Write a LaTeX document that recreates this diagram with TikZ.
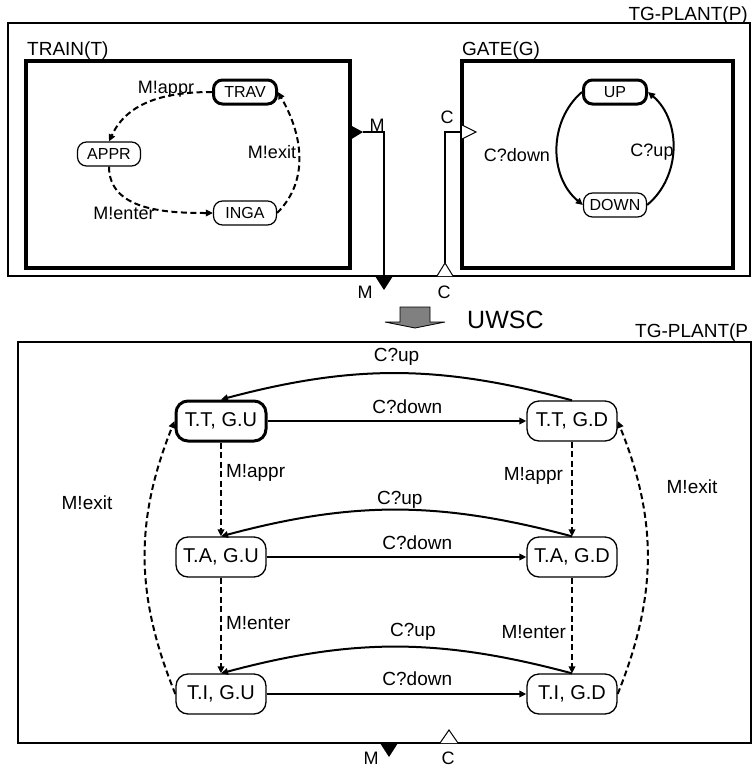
\documentclass[tikz,border=0pt]{standalone}
\usepackage{fontspec}
\setmainfont{Liberation Sans}
\usetikzlibrary{arrows.meta}
\newcommand{\fsz}[1]{\fontsize{#1}{#1}\selectfont}
\tikzset{
  st/.style={draw,line width=1.2pt,rounded corners=9pt,minimum width=63pt,minimum height=24pt,inner sep=0pt,font=\fsz{16}},
  cst/.style={draw,line width=1.3pt,rounded corners=12pt,minimum width=90pt,minimum height=40pt,inner sep=0pt,font=\fsz{20}},
  ini/.style={line width=3pt},
  tr/.style={line width=2pt,-{Triangle[length=7pt,width=6.5pt]}},
  trd/.style={tr,dash pattern=on 6pt off 3.5pt},
  lbl/.style={font=\fsz{19},inner sep=0pt},
  tlbl/.style={font=\fsz{18},inner sep=0pt},
  box/.style={draw,line width=4pt,inner sep=0pt},
  frame/.style={draw,line width=2pt,inner sep=0pt},
  wire/.style={line width=1.3pt},
  outport/.style={fill=black},
  inport/.style={draw,fill=white,line width=1pt}
}

\begin{document}
\begin{tikzpicture}[x=1pt,y=1pt]
\useasboundingbox (0,0) rectangle (753,-772);
% upper plant, train and gate
\node[frame,minimum width=742pt,minimum height=253pt] (plant) at (379,-149.5) {};
\node[lbl,anchor=base east] (plantname) at (748,-20) {TG-PLANT(P)};
\node[box,minimum width=324pt,minimum height=207pt] (train) at (188,-164.5) {};
\node[lbl,anchor=base west] (trainname) at (27,-55) {TRAIN(T)};
\node[box,minimum width=271pt,minimum height=207pt] (gate) at (597.5,-164.5) {};
\node[lbl,anchor=base west] (gatename) at (462,-55) {GATE(G)};

\node[st,ini] (trav) at (245,-92) {TRAV};
\node[st] (appr) at (109,-154) {APPR};
\node[st] (inga) at (245,-213) {INGA};
\draw[trd] (trav.west) to[out=180,in=65] (appr.north);
\draw[trd] (appr.south) to[out=270,in=180] (inga.west);
\draw[trd] (inga.east) to[out=45,in=-60] (trav.east);
\node[tlbl] (lappr) at (166,-89) {M!appr};
\node[tlbl] (lenter) at (124,-213) {M!enter};
\node[tlbl] (lexit) at (272,-152) {M!exit};

\node[st,ini] (up) at (615,-92) {UP};
\node[st] (down) at (615,-205) {DOWN};
\draw[tr] (up.west) to[bend right=50] (down.west);
\draw[tr] (down.east) to[bend right=50] (up.east);
\node[tlbl] (ldown) at (517,-155) {C?down};
\node[tlbl] (lup) at (652,-152) {C?up};

% ports
\coordinate (mout) at (363,-132);
\coordinate (mbend) at (384,-132);
\coordinate (mfoot) at (384,-276);
\fill[outport] (350,-125) -- (mout) -- (350,-140) -- cycle;
\draw[wire] (mout) -- (mbend) -- (mfoot);
\fill[outport] (375,-276) -- (393,-276) -- (384,-290) -- cycle;
\coordinate (cin) at (462,-132);
\coordinate (cbend) at (445,-132);
\coordinate (cfoot) at (445,-263);
\draw[wire] (cin) -- (cbend) -- (cfoot);
\draw[inport] (462,-125) -- (476,-132) -- (462,-139);
\draw[inport] (437,-276) -- (cfoot) -- (453,-276);
\node[tlbl] (pm1) at (377,-125) {M};
\node[tlbl] (pc1) at (447,-117) {C};
\node[tlbl] (pm2) at (365,-292) {M};
\node[tlbl] (pc2) at (444,-292) {C};

% composition step
\draw[fill=gray,line width=0.8pt] (400,-307) -- (430,-307) -- (430,-322) -- (445,-322)
  -- (415,-328) -- (385,-322) -- (400,-322) -- cycle;
\node[font=\fsz{25},inner sep=0pt,anchor=west] (uwsc) at (467,-320) {UWSC};

% composed plant
\node[frame,minimum width=733pt,minimum height=401pt] (plant2) at (384.5,-542.5) {};
\node[lbl,anchor=base west] (plant2name) at (635,-337) {TG-PLANT(P};

\node[cst,ini] (tu) at (221,-421) {T.T, G.U};
\node[cst] (td) at (572,-421) {T.T, G.D};
\node[cst] (au) at (221,-557) {T.A, G.U};
\node[cst] (ad) at (572,-557) {T.A, G.D};
\node[cst] (iu) at (221,-694) {T.I, G.U};
\node[cst] (id) at (572,-694) {T.I, G.D};

\draw[tr] (tu) -- node[lbl,pos=0.54,above=6pt] {C?down} (td);
\draw[tr] (au) -- node[lbl,pos=0.58,above=6pt] {C?down} (ad);
\draw[tr] (iu) -- node[lbl,pos=0.58,above=7pt] {C?down} (id);
\draw[tr] (td.north) to[bend right=15] node[lbl,pos=0.5,above=7pt] {C?up} (tu.north);
\draw[tr] (ad.north) to[bend right=15] node[lbl,pos=0.49,above=0pt] {C?up} (au.north);
\draw[tr] (id.north) to[bend right=15] node[lbl,pos=0.45,above=6pt] {C?up} (iu.north);

\draw[trd] (tu) -- node[lbl,pos=0.32,right=4pt] {M!appr} (au);
\draw[trd] (au) -- node[lbl,pos=0.47,right=4pt] {M!enter} (iu);
\draw[trd] (td) -- node[lbl,pos=0.36,left=8pt] {M!appr} (ad);
\draw[trd] (ad) -- node[lbl,pos=0.57,left=5pt] {M!enter} (id);
\draw[trd] (iu.west) to[bend left=22] (tu.west);
\draw[trd] (id.east) to[bend right=22] (td.east);
\node[lbl] (lexit2) at (87,-503) {M!exit};
\node[lbl] (rexit2) at (692,-487) {M!exit};

% ports of the composed plant
\fill[outport] (380,-743) -- (398,-743) -- (389,-757) -- cycle;
\draw[inport] (440,-743) -- (449,-730) -- (458,-743);
\node[tlbl] (pm3) at (371,-758) {M};
\node[tlbl] (pc3) at (448,-758) {C};
\end{tikzpicture}
\end{document}
